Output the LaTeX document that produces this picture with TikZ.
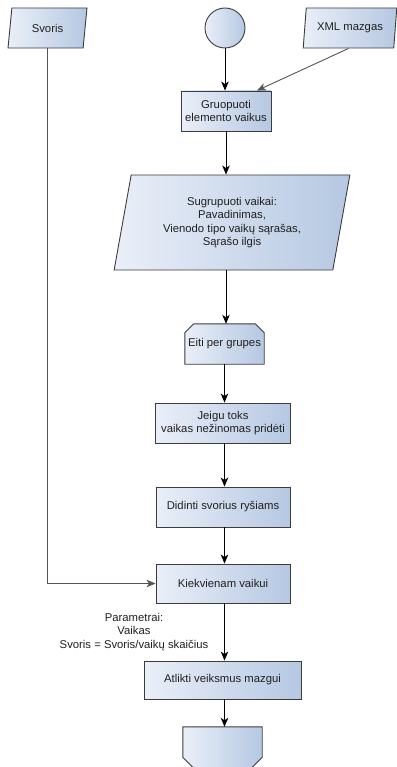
\documentclass[tikz,border=0pt]{standalone}
\usepackage{fontspec}
\setmainfont{Liberation Sans}
\usetikzlibrary{shapes.geometric,arrows.meta}
\definecolor{fillL}{HTML}{EAEFF8}
\definecolor{fillR}{HTML}{B5C8E2}
\definecolor{edge}{HTML}{3C3C3C}
\definecolor{txt}{HTML}{202020}
\definecolor{wire}{HTML}{555555}
\begin{document}
\begin{tikzpicture}[x=1pt,y=-1pt,
  font=\fontsize{11.3}{13.6}\selectfont, text=txt,
  skin/.style={draw=edge,line width=0.9pt,left color=fillL,right color=fillR},
  blk/.style={skin,inner sep=1pt,align=center,minimum height=40pt},
  box/.style={blk,rectangle},
  slant/.style={blk,trapezium,trapezium stretches=true,
    trapezium left angle=#1,trapezium right angle=180-#1},
  frame/.style={rectangle,inner sep=1pt,align=center,minimum height=40pt},
  flow/.style={draw=black,line width=0.9pt,-{Stealth[length=9pt,width=7.5pt,inset=2.5pt]}},
  feed/.style={flow,draw=wire}]
\useasboundingbox (0,0) rectangle (396,767);

% inputs along the top
\node[slant=80,minimum width=79pt] (svoris) at (47.5,28) {Svoris};
\node[blk,circle,minimum size=40pt,inner sep=0pt] (start) at (225,28) {};
\node[slant=79,minimum width=94pt] (xml) at (350,28) {XML mazgas};

% main column
\node[box,minimum width=90pt] (grp) at (226,111) {Gruopuoti\\elemento vaikus};
\node[slant=77.5,minimum width=236pt,minimum height=95pt] (sug) at (232,222.5)
  {Sugrupuoti vaikai:\\Pavadinimas,\\Vienodo tipo vaik\k{u} s\k{a}ra\v{s}as,\\Sąrašo ilgis};

% loop start: rectangle with both top corners cut
\node[frame,minimum width=79pt] (eiti) at (224.5,344) {};
\shade[skin] (eiti.south west) -- ([yshift=-9pt]eiti.north west) -- ([xshift=9pt]eiti.north west)
  -- ([xshift=-9pt]eiti.north east) -- ([yshift=-9pt]eiti.north east) -- (eiti.south east) -- cycle;
\node at (eiti) {Eiti per grupes};

\node[box,minimum width=135pt] (jei) at (223,423) {Jeigu toks\\vaikas ne\v{z}inomas prid\.{e}ti};
\node[box,minimum width=134pt] (did) at (223,507) {Didinti svorius ry\v{s}iams};
\node[box,minimum width=134pt,minimum height=39pt] (kiek) at (223,583.5) {Kiekvienam vaikui};
\node[box,minimum width=157pt,minimum height=38pt] (atl) at (222.5,680) {Atlikti veiksmus mazgui};

% loop end: rectangle with both bottom corners cut
\node[frame,minimum width=79pt,minimum height=41pt] (pab) at (222.5,747.5) {};
\shade[skin] (pab.north west) -- ([yshift=11pt]pab.south west) -- ([xshift=11pt]pab.south west)
  -- ([xshift=-11pt]pab.south east) -- ([yshift=11pt]pab.south east) -- (pab.north east) -- cycle;

% parameter note beside the loop
\node[align=center,inner sep=0pt] (par) at (134,632)
  {Parametrai:\\Vaikas\\Svoris = Svoris/vaik\k{u} skai\v{c}ius};

% connectors
\draw[flow] (start.south) -- (start.south |- grp.north);
\draw[feed] (xml.south west) ++(19,0) coordinate (xmlout) -- ([xshift=31pt]grp.north);
\draw[flow] (grp.south) -- (grp.south |- sug.north);
\draw[flow] (grp.south |- sug.south) -- (grp.south |- eiti.north);
\draw[flow] (eiti.south) -- (eiti.south |- jei.north);
\draw[flow] (eiti.south |- jei.south) -- (eiti.south |- did.north);
\draw[flow] (eiti.south |- did.south) -- (eiti.south |- kiek.north);
\draw[feed] (svoris.south) -- (svoris.south |- kiek.west) -- (kiek.west);
\draw[flow] (eiti.south |- kiek.south) -- (eiti.south |- atl.north);
\draw[flow] (eiti.south |- atl.south) -- (eiti.south |- pab.north);
\end{tikzpicture}
\end{document}
